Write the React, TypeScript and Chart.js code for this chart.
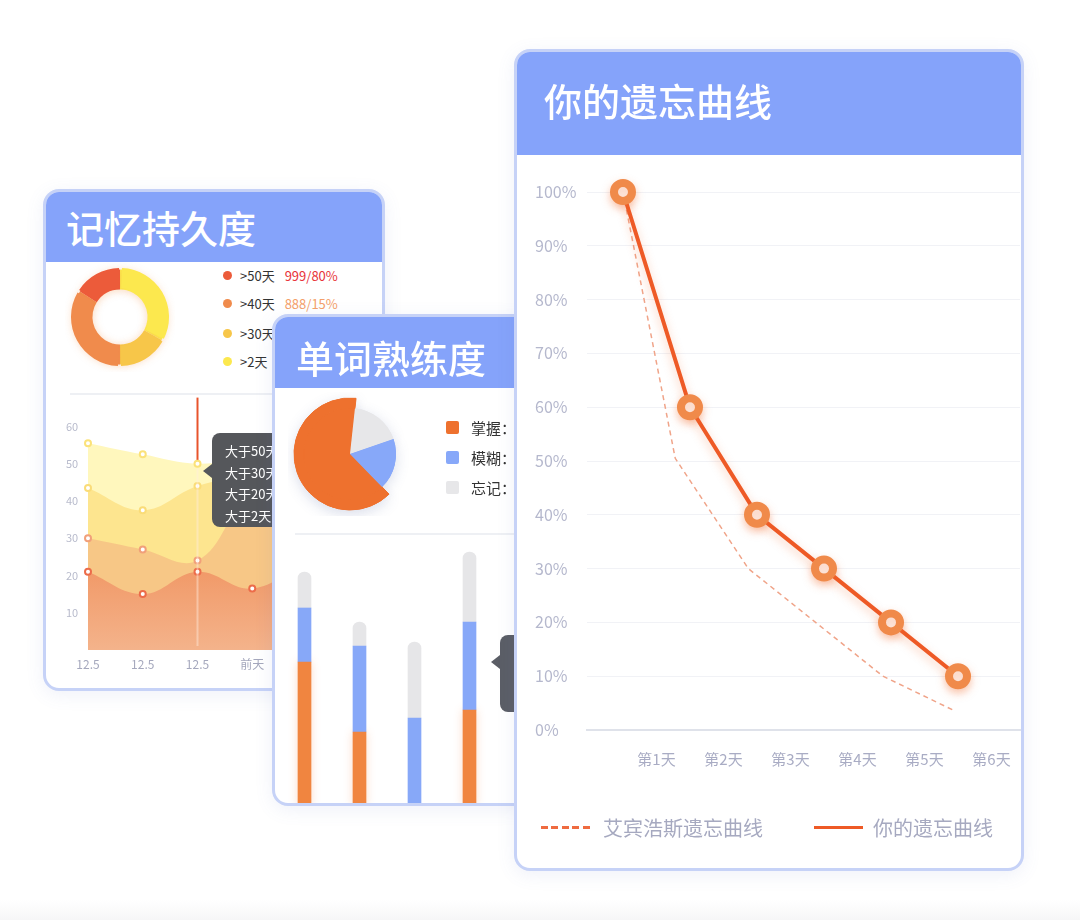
import React, { useEffect, useRef } from 'react';
import { Chart, registerables } from 'chart.js';

Chart.register(...registerables);

const FONT = '"Noto Sans CJK SC", "Noto Sans", sans-serif';
Chart.defaults.font.family = FONT;

const HEADER_BLUE = '#85a3fa';
const CARD_BORDER = '#c6d2f7';

// ---------- 你的遗忘曲线 ----------
const dayLabels = ['第1天', '第2天', '第3天', '第4天', '第5天', '第6天'];
const yourDay = [0, 1, 2, 3, 4, 5];
const yourRetention = [100, 60, 40, 30, 20, 10];
const ebbDay = [0, 0.78, 1.87, 3.88, 4.96];
const ebbRetention = [100, 50.5, 30, 10, 3.5];
const curveNames = ['艾宾浩斯遗忘曲线', '你的遗忘曲线'];

// ---------- 记忆持久度 ----------
const durationLabels = ['>50天', '>40天', '>30天', '>2天'];
const durationShares = [16, 34, 17, 33];
const durationColors = ['#ec5b3a', '#f08b4c', '#f7c649', '#fce84e'];
const durationStats = ['999/80%', '888/15%', '', ''];
const durationStatColors = ['#e8343a', '#f4a06a', '#f4a06a', '#f4a06a'];

const areaLabels = ['12.5', '12.5', '12.5', '前天', '昨天'];
const over50 = [55.5, 52.5, 50, 52, 55];
const over30 = [43.5, 37.5, 44, 47, 50];
const over20 = [30, 27, 24, 42, 44];
const over2 = [21, 15, 21, 16.5, 24];
const tooltipNames = ['大于50天', '大于30天', '大于20天', '大于2天'];

// ---------- 单词熟练度 ----------
const masteryLabels = ['掌握', '模糊', '忘记'];
const masteryShares = [64, 18, 18];
const masteryColors = ['#ee712e', '#87a8f9', '#e7e7e9'];
const barCategories = ['A', 'B', 'C', 'D'];
const barMastered = [72, 37, 0, 48];
const barFuzzy = [27, 43, 44, 44];
const barForgotten = [18, 12, 38, 35];

const shadowPlugin = (id: string, map: any) => ({
  id,
  beforeDatasetDraw(chart: any, args: any) {
    const s = map[args.index];
    if (!s) return;
    const c = chart.ctx;
    c.save();
    c.shadowColor = s.color;
    c.shadowBlur = s.blur;
    c.shadowOffsetY = s.y;
  },
  afterDatasetDraw(chart: any, args: any) {
    if (map[args.index]) chart.ctx.restore();
  },
});

// draws a silhouette with a shadow behind arcs / bars, before the real marks
const silhouetteShadow = (id: string, color: string, blur: number, offY: number, onlyDataset?: number) => ({
  id,
  beforeDatasetsDraw(chart: any) {
    const ctx = chart.ctx;
    ctx.save();
    ctx.shadowColor = color;
    ctx.shadowBlur = blur;
    ctx.shadowOffsetY = offY;
    chart.data.datasets.forEach((_: any, di: number) => {
      if (onlyDataset !== undefined && di !== onlyDataset) return;
      const meta = chart.getDatasetMeta(di);
      meta.data.forEach((el: any) => {
        const bg = el.options && el.options.backgroundColor;
        if (!bg || bg === 'rgba(0,0,0,0)') return;
        ctx.fillStyle = bg;
        ctx.beginPath();
        if (el.outerRadius !== undefined) {
          ctx.arc(el.x, el.y, el.outerRadius, el.startAngle, el.endAngle);
          if (el.innerRadius > 0) ctx.arc(el.x, el.y, el.innerRadius, el.endAngle, el.startAngle, true);
          else ctx.lineTo(el.x, el.y);
        } else {
          const top = Math.min(el.y, el.base);
          const h = Math.abs(el.base - el.y);
          if (h <= 0) return;
          ctx.rect(el.x - el.width / 2, top, el.width, h);
        }
        ctx.closePath();
        ctx.fill();
      });
    });
    ctx.restore();
  },
});

const hoverLine = {
  id: 'hoverLine',
  beforeDatasetsDraw(chart: any) {
    const { ctx, chartArea } = chart;
    const x = chart.scales.x.getPixelForValue(2);
    ctx.save();
    ctx.strokeStyle = '#e8542c';
    ctx.lineWidth = 2;
    ctx.beginPath();
    ctx.moveTo(x, chartArea.top + 1);
    ctx.lineTo(x, chartArea.bottom - 4);
    ctx.stroke();
    ctx.restore();
  },
  afterDatasetsDraw(chart: any) {
    const { ctx, chartArea } = chart;
    const x = chart.scales.x.getPixelForValue(2);
    const yTop = chart.scales.y.getPixelForValue(over50[2]);
    ctx.save();
    ctx.strokeStyle = 'rgba(255,236,222,0.45)';
    ctx.lineWidth = 2;
    ctx.beginPath();
    ctx.moveTo(x, yTop + 5);
    ctx.lineTo(x, chartArea.bottom - 4);
    ctx.stroke();
    ctx.restore();
  },
};

function Card(props: any) {
  const { x, y, w, h, z, headerH, title, titleLeft, titleShift, children } = props;
  return (
    <div
      style={{
        position: 'absolute',
        left: x,
        top: y,
        width: w,
        height: h,
        boxSizing: 'border-box',
        border: `3px solid ${CARD_BORDER}`,
        borderRadius: 16,
        background: '#fff',
        overflow: 'hidden',
        zIndex: z,
        boxShadow: '0 4px 18px rgba(100,120,200,0.10)',
      }}
    >
      <div style={{ position: 'absolute', left: 0, top: 0, right: 0, height: headerH, background: HEADER_BLUE }} />
      <div
        style={{
          position: 'absolute',
          left: titleLeft,
          top: titleShift,
          height: headerH,
          lineHeight: `${headerH}px`,
          color: '#fff',
          fontSize: 38,
          fontWeight: 500,
          whiteSpace: 'nowrap',
        }}
      >
        {title}
      </div>
      {children}
    </div>
  );
}

function Caret(props: any) {
  const { x, y, color } = props;
  return (
    <div
      style={{
        position: 'absolute',
        left: x,
        top: y - 7,
        width: 0,
        height: 0,
        borderTop: '7px solid transparent',
        borderBottom: '7px solid transparent',
        borderRight: `9px solid ${color}`,
      }}
    />
  );
}

export default function App() {
  const curveRef = useRef<HTMLCanvasElement>(null);
  const donutRef = useRef<HTMLCanvasElement>(null);
  const areaRef = useRef<HTMLCanvasElement>(null);
  const pieRef = useRef<HTMLCanvasElement>(null);
  const barRef = useRef<HTMLCanvasElement>(null);

  useEffect(() => {
    const charts: any[] = [];

    // Right: forgetting curve
    charts.push(
      new Chart(curveRef.current as any, {
        type: 'line',
        data: {
          datasets: [
            {
              label: curveNames[0],
              data: ebbDay.map((x, i) => ({ x, y: ebbRetention[i] })),
              borderColor: '#f0a489',
              borderWidth: 1.5,
              borderDash: [5, 4],
              pointRadius: 0,
              tension: 0,
              fill: false,
              order: 2,
              clip: false,
            },
            {
              label: curveNames[1],
              data: yourDay.map((x, i) => ({ x, y: yourRetention[i] })),
              borderColor: '#ee5a26',
              borderWidth: 4,
              pointRadius: 9,
              pointBorderWidth: 8,
              pointBorderColor: '#f08a4a',
              pointBackgroundColor: '#ffffff',
              tension: 0,
              fill: false,
              order: 1,
              clip: false,
            },
          ],
        } as any,
        options: {
          responsive: false,
          animation: false,
          events: [],
          layout: { padding: { top: 22, right: 0, left: 0, bottom: 0 } },
          plugins: { legend: { display: false }, tooltip: { enabled: false } },
          scales: {
            x: {
              type: 'linear',
              min: -0.537,
              max: 5.925,
              grid: { display: false, drawTicks: false },
              border: { display: true, color: '#dfe2ea', width: 2 },
              afterBuildTicks: (s: any) => {
                s.ticks = dayLabels.map((_, i) => ({ value: i + 0.5 }));
              },
              afterFit: (s: any) => {
                s.height = 45;
              },
              ticks: {
                padding: 0,
                color: '#a9acc4',
                font: { family: FONT, size: 15, lineHeight: '58px' },
                autoSkip: false,
                maxRotation: 0,
                callback: (v: any) => dayLabels[Math.round(Number(v) - 0.5)] ?? '',
              },
            },
            y: {
              min: 0,
              max: 100,
              grid: { color: '#f1f2f6', lineWidth: 1, drawTicks: false },
              border: { display: false },
              afterFit: (s: any) => {
                s.width = 52;
              },
              ticks: {
                stepSize: 10,
                crossAlign: 'far',
                padding: 0,
                color: '#b5b8cd',
                font: { family: FONT, size: 16 },
                callback: (v: any) => `${v}%`,
              },
            },
          },
        } as any,
        plugins: [shadowPlugin('curveGlow', { 1: { color: 'rgba(240,110,50,0.35)', blur: 10, y: 4 } })],
      })
    );

    // Left: donut
    const donutOrder = [3, 2, 1, 0];
    charts.push(
      new Chart(donutRef.current as any, {
        type: 'doughnut',
        data: {
          labels: donutOrder.map((i) => durationLabels[i]),
          datasets: [
            {
              data: donutOrder.map((i) => durationShares[i]),
              backgroundColor: donutOrder.map((i) => durationColors[i]),
              borderWidth: 0,
              spacing: 3,
            },
          ],
        },
        options: {
          responsive: false,
          animation: false,
          events: [],
          radius: 47.5,
          cutout: 31,
          plugins: { legend: { display: false }, tooltip: { enabled: false } },
        } as any,
        plugins: [silhouetteShadow('donutGlow', 'rgba(240,140,60,0.35)', 8, 1)],
      })
    );

    // Left: layered area chart
    charts.push(
      new Chart(areaRef.current as any, {
        type: 'line',
        data: {
          labels: areaLabels,
          datasets: [
            {
              label: tooltipNames[3],
              data: over2,
              fill: 'origin',
              backgroundColor: (c: any) => {
                const a = c.chart.chartArea;
                if (!a) return '#f19a66';
                const g = c.chart.ctx.createLinearGradient(0, a.top + 150, 0, a.bottom);
                g.addColorStop(0, '#f0925e');
                g.addColorStop(1, '#f4b38b');
                return g;
              },
              borderColor: 'rgba(0,0,0,0)',
              borderWidth: 0,
              pointRadius: 3,
              pointBorderWidth: 2,
              pointBorderColor: '#ec6c4a',
              pointBackgroundColor: '#fff',
              tension: 0.4,
              clip: false,
            },
            {
              label: tooltipNames[2],
              data: over20,
              fill: 'origin',
              backgroundColor: '#f7c786',
              borderColor: 'rgba(0,0,0,0)',
              borderWidth: 0,
              pointRadius: 3,
              pointBorderWidth: 2,
              pointBorderColor: '#f1a07a',
              pointBackgroundColor: '#fff',
              tension: 0.4,
              clip: false,
            },
            {
              label: tooltipNames[1],
              data: over30,
              fill: 'origin',
              backgroundColor: '#fde58f',
              borderColor: 'rgba(0,0,0,0)',
              borderWidth: 0,
              pointRadius: 3,
              pointBorderWidth: 2,
              pointBorderColor: '#fadc78',
              pointBackgroundColor: '#fff',
              tension: 0.4,
              clip: false,
            },
            {
              label: tooltipNames[0],
              data: over50,
              fill: 'origin',
              backgroundColor: '#fff7bd',
              borderColor: 'rgba(0,0,0,0)',
              borderWidth: 0,
              pointRadius: 3,
              pointBorderWidth: 2,
              pointBorderColor: '#fbe27a',
              pointBackgroundColor: '#fff',
              tension: 0.4,
              clip: false,
            },
          ],
        } as any,
        options: {
          responsive: false,
          animation: false,
          events: [],
          layout: { padding: { top: 6, right: 15, left: 0, bottom: 0 } },
          plugins: { legend: { display: false }, tooltip: { enabled: false } },
          scales: {
            x: {
              offset: false,
              grid: { display: false, drawTicks: false },
              border: { display: false },
              afterFit: (s: any) => {
                s.height = 30;
              },
              ticks: {
                padding: 0,
                color: '#a5a8bd',
                font: { size: 12, family: FONT, lineHeight: '28px' },
                autoSkip: false,
                maxRotation: 0,
              },
            },
            y: {
              min: 0,
              max: 68,
              grid: { display: false, drawTicks: false },
              border: { display: false },
              afterFit: (s: any) => {
                s.width = 22;
              },
              ticks: {
                stepSize: 10,
                crossAlign: 'far',
                padding: 0,
                color: '#b8bbcc',
                font: { size: 11, family: FONT },
                callback: (v: any) => (v > 0 && v <= 60 && v % 10 === 0 ? String(v) : null),
              },
            },
          },
        } as any,
        plugins: [hoverLine],
      })
    );

    // Middle: pie (orange wedge larger than the others)
    const pieOrder = [0, 2, 1];
    charts.push(
      new Chart(pieRef.current as any, {
        type: 'pie',
        data: {
          labels: pieOrder.map((i) => masteryLabels[i]),
          datasets: [
            {
              data: pieOrder.map((i) => masteryShares[i]),
              backgroundColor: pieOrder.map((i) => (i === 0 ? masteryColors[0] : 'rgba(0,0,0,0)')),
              borderWidth: pieOrder.map((i) => (i === 0 ? 1 : 0)),
              borderColor: masteryColors[0],
              weight: 10,
            },
            {
              data: pieOrder.map((i) => masteryShares[i]),
              backgroundColor: pieOrder.map((i) => masteryColors[i]),
              borderWidth: pieOrder.map((i) => (i === 0 ? 1 : 0)),
              borderColor: masteryColors[0],
              weight: 46,
            },
          ],
        } as any,
        options: {
          responsive: false,
          animation: false,
          events: [],
          radius: 56,
          rotation: 135.8,
          plugins: { legend: { display: false }, tooltip: { enabled: false } },
        } as any,
        plugins: [silhouetteShadow('pieShadow', 'rgba(80,100,160,0.22)', 14, 4)],
      })
    );

    // Middle: stacked bars
    charts.push(
      new Chart(barRef.current as any, {
        type: 'bar',
        data: {
          labels: barCategories,
          datasets: [
            { label: masteryLabels[0], data: barMastered, backgroundColor: '#f08540', barThickness: 13, borderSkipped: 'start' },
            { label: masteryLabels[1], data: barFuzzy, backgroundColor: '#87a8f8', barThickness: 13 },
            { label: masteryLabels[2], data: barForgotten, backgroundColor: '#e6e6e8', barThickness: 13, borderRadius: 7, borderSkipped: 'start' },
          ],
        } as any,
        options: {
          responsive: false,
          animation: false,
          events: [],
          layout: { padding: 0 },
          plugins: { legend: { display: false }, tooltip: { enabled: false } },
          scales: {
            x: { display: false, stacked: true },
            y: { display: false, stacked: true, min: 0, max: 133 },
          },
        } as any,
        plugins: [silhouetteShadow('barGlow', 'rgba(240,120,50,0.28)', 10, 0, 0)],
      })
    );

    return () => charts.forEach((c) => c.destroy());
  }, []);

  return (
    <div
      style={{
        position: 'absolute',
        left: 0,
        top: 0,
        width: 1080,
        height: 920,
        background: '#fff',
        overflow: 'hidden',
        fontFamily: FONT,
      }}
    >
      <div
        style={{
          position: 'absolute',
          left: 0,
          top: 900,
          width: 1080,
          height: 20,
          background: 'linear-gradient(#ffffff, #f6f6f7)',
        }}
      />

      {/* 记忆持久度 */}
      <Card x={43} y={189} w={342} h={502} z={1} headerH={70} title="记忆持久度" titleLeft={20} titleShift={0}>
        <canvas ref={donutRef} width={110} height={110} style={{ position: 'absolute', left: 19, top: 70, width: 110, height: 110 }} />
        {durationLabels.map((lab, i) => (
          <div
            key={i}
            style={{
              position: 'absolute',
              left: 177,
              top: [83, 111, 141, 169][i] - 10,
              height: 20,
              display: 'flex',
              alignItems: 'center',
              fontSize: 13,
              whiteSpace: 'nowrap',
            }}
          >
            <span style={{ width: 9, height: 9, borderRadius: '50%', background: durationColors[i], display: 'inline-block' }} />
            <span style={{ marginLeft: 8, color: '#333' }}>{lab}</span>
            <span style={{ marginLeft: 10, color: durationStatColors[i] }}>{durationStats[i]}</span>
          </div>
        ))}
        <div style={{ position: 'absolute', left: 24, right: 0, top: 201, height: 1.5, background: '#eef0f4' }} />
        <canvas ref={areaRef} width={256} height={290} style={{ position: 'absolute', left: 20, top: 198, width: 256, height: 290 }} />
        <Caret x={157} y={279} color="#55575b" />
        <div
          style={{
            position: 'absolute',
            left: 166,
            top: 241,
            width: 140,
            height: 94,
            borderRadius: 8,
            background: '#55575b',
            color: '#fff',
            fontSize: 13,
            lineHeight: '21.5px',
            padding: '7px 0 0 13px',
            boxSizing: 'border-box',
            whiteSpace: 'nowrap',
          }}
        >
          {tooltipNames.map((t, i) => (
            <div key={i}>{t}</div>
          ))}
        </div>
      </Card>

      {/* 单词熟练度 */}
      <Card x={272} y={314} w={260} h={492} z={2} headerH={71} title="单词熟练度" titleLeft={21} titleShift={4}>
        <canvas ref={pieRef} width={124} height={124} style={{ position: 'absolute', left: 13, top: 75, width: 124, height: 124 }} />
        {masteryLabels.map((lab, i) => (
          <div
            key={i}
            style={{
              position: 'absolute',
              left: 171,
              top: [110, 140, 170][i] - 11,
              height: 22,
              display: 'flex',
              alignItems: 'center',
              fontSize: 15,
              whiteSpace: 'nowrap',
            }}
          >
            <span style={{ width: 13, height: 13, borderRadius: 2, background: masteryColors[i], display: 'inline-block' }} />
            <span style={{ marginLeft: 12, color: '#333' }}>{lab}：</span>
          </div>
        ))}
        <div style={{ position: 'absolute', left: 20, right: 0, top: 216, height: 1.5, background: '#eef0f4' }} />
        <canvas ref={barRef} width={220} height={266} style={{ position: 'absolute', left: 2, top: 223, width: 220, height: 266 }} />
        <Caret x={216} y={345} color="#5b5e66" />
        <div
          style={{
            position: 'absolute',
            left: 225,
            top: 318,
            width: 60,
            height: 77,
            borderRadius: 8,
            background: '#5b5e66',
          }}
        />
      </Card>

      {/* 你的遗忘曲线 */}
      <Card x={514} y={49} w={510} h={822} z={3} headerH={103} title="你的遗忘曲线" titleLeft={27} titleShift={-4}>
        <canvas ref={curveRef} width={502} height={605} style={{ position: 'absolute', left: 18, top: 118, width: 502, height: 605 }} />
        <div style={{ position: 'absolute', left: 24, top: 763, height: 24, display: 'flex', alignItems: 'center', whiteSpace: 'nowrap' }}>
          <span
            style={{
              width: 49,
              height: 3,
              display: 'inline-block',
              background: 'repeating-linear-gradient(90deg, #ef6b40 0px, #ef6b40 7px, transparent 7px, transparent 10.5px)',
            }}
          />
          <span style={{ marginLeft: 13, fontSize: 20, color: '#a6a9c0' }}>{curveNames[0]}</span>
        </div>
        <div style={{ position: 'absolute', left: 297, top: 763, height: 24, display: 'flex', alignItems: 'center', whiteSpace: 'nowrap' }}>
          <span style={{ width: 49, height: 3, display: 'inline-block', background: '#ee5a26' }} />
          <span style={{ marginLeft: 10, fontSize: 20, color: '#a6a9c0' }}>{curveNames[1]}</span>
        </div>
      </Card>
    </div>
  );
}
